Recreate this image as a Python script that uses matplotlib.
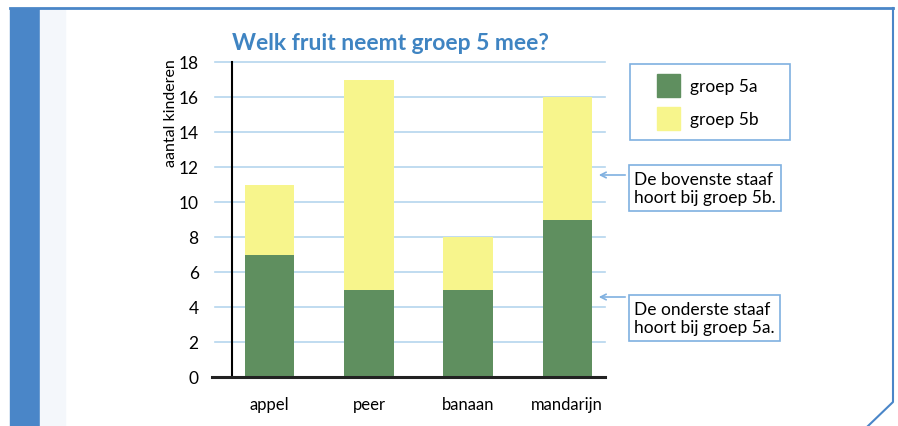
import matplotlib.pyplot as plt
from matplotlib.patches import Rectangle
from matplotlib.lines import Line2D

# data
fruit = ['appel', 'peer', 'banaan', 'mandarijn']
groep_5a = [7, 5, 5, 9]
groep_5b = [4, 12, 3, 7]
y_ticks = [0, 2, 4, 6, 8, 10, 12, 14, 16, 18]

W, H = 898, 427
green = '#5f8f5f'
yellow = '#f7f58c'
grid_blue = '#b5d6ee'
frame_blue = '#7fb0e0'

plt.rcParams['font.family'] = ['Lato', 'DejaVu Sans']

fig = plt.figure(figsize=(W / 100, H / 100), dpi=100)


def fx(px):
    return px / W


def fy(py):
    return 1 - py / H


# frame around the exercise
fig.patches.append(Rectangle((fx(10), 0), fx(30), fy(10), transform=fig.transFigure,
                             color='#4a86c8', zorder=0))
fig.patches.append(Rectangle((fx(40), 0), fx(25), fy(10), transform=fig.transFigure,
                             color='#f4f7fb', zorder=0))
fig.lines.append(Line2D([fx(10), fx(893)], [fy(9), fy(9)], transform=fig.transFigure,
                        color='#4a86c8', lw=2))
fig.lines.append(Line2D([fx(893), fx(893), fx(868)], [fy(9), fy(403), fy(427)],
                        transform=fig.transFigure, color='#4a86c8', lw=1.5))

ax = fig.add_axes([fx(232), fy(378), fx(605) - fx(232), fy(63) - fy(378)])
x = range(len(fruit))
ax.bar(x, groep_5a, width=0.5, color=green, zorder=3, label='groep 5a')
ax.bar(x, groep_5b, width=0.5, bottom=groep_5a, color=yellow, zorder=3, label='groep 5b')

ax.set_xlim(-0.38, 3.38)
ax.set_ylim(0, 18)
ax.set_yticks(y_ticks)
ax.set_xticks(list(x))
ax.set_xticklabels(fruit, fontsize=12)
ax.tick_params(axis='y', length=0, labelsize=12.5, pad=24)
ax.tick_params(axis='x', length=0, pad=14)

for t in y_ticks[1:]:
    ax.plot([-0.55, 3.38], [t, t], color=grid_blue, lw=1.2, zorder=1, clip_on=False)

for s in ['top', 'right', 'bottom']:
    ax.spines[s].set_visible(False)
ax.spines['left'].set_linewidth(1.5)
ax.plot([-0.58, 3.38], [0, 0], color='#222222', lw=2.2, zorder=4, clip_on=False)

ax.set_ylabel('aantal kinderen', fontsize=11.5)
ax.yaxis.set_label_coords(-0.145, 0.84)
fig.text(fx(232), fy(44), 'Welk fruit neemt groep 5 mee?', fontsize=16.5, fontweight='bold',
         color='#3f84c2', va='center', ha='left')

# legend box
fig.patches.append(Rectangle((fx(630), fy(141)), fx(160), fy(65) - fy(141),
                             transform=fig.transFigure, fill=False, ec=frame_blue, lw=1.2))
fig.patches.append(Rectangle((fx(657), fy(98)), fx(23), fy(75) - fy(98),
                             transform=fig.transFigure, color=green))
fig.patches.append(Rectangle((fx(657), fy(131)), fx(23), fy(108) - fy(131),
                             transform=fig.transFigure, color=yellow))
fig.text(fx(690), fy(87), 'groep 5a', fontsize=12.5, va='center')
fig.text(fx(690), fy(120), 'groep 5b', fontsize=12.5, va='center')

# annotation boxes
notes = [('De bovenste staaf\nhoort bij groep 5b.', 189, 176),
         ('De onderste staaf\nhoort bij groep 5a.', 319, 298)]
for txt, ty, ay in notes:
    fig.text(fx(634), fy(ty), txt, fontsize=12.5, va='center', ha='left', linespacing=1.2,
             bbox=dict(boxstyle='square,pad=0.3', fc='white', ec=frame_blue, lw=1.2))
    ax.annotate('', xy=(fx(596), fy(ay)), xycoords='figure fraction',
                xytext=(fx(628), fy(ay)), textcoords='figure fraction',
                arrowprops=dict(arrowstyle='->', color=frame_blue, lw=1.2))

fig.savefig('out.png', dpi=100)
